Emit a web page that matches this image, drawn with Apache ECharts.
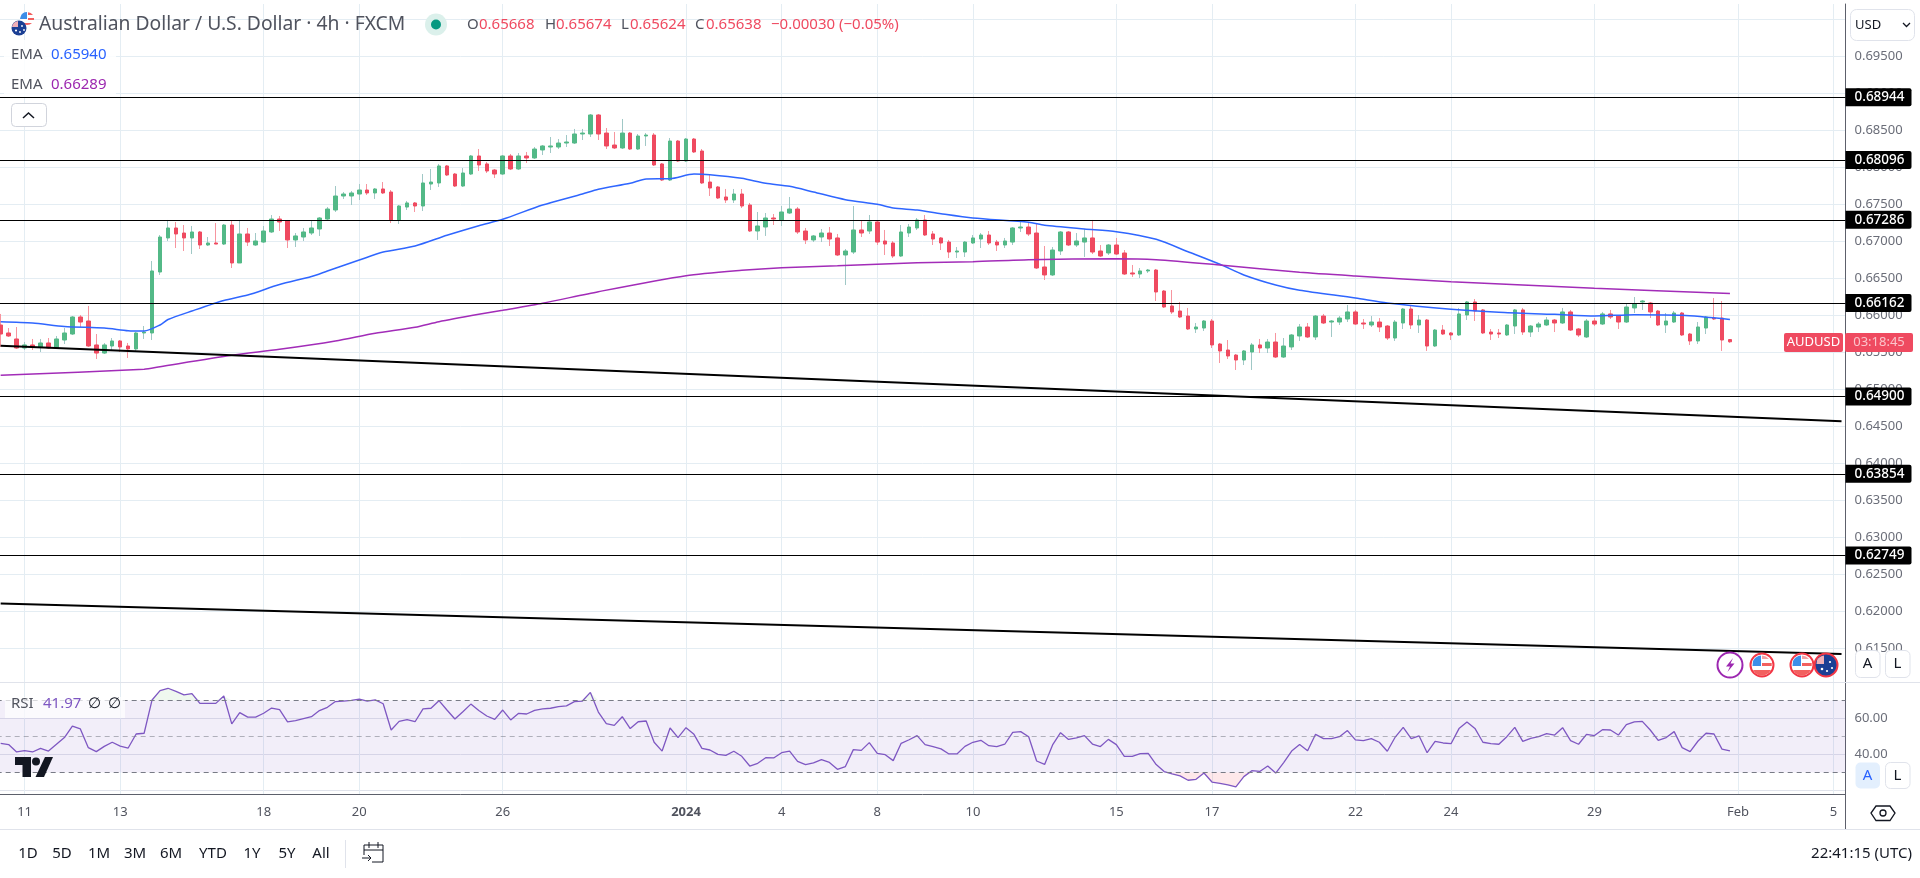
<!DOCTYPE html>
<html><head><meta charset="utf-8">
<style>html,body{margin:0;padding:0;background:#fff}#c{width:1920px;height:878px}</style>
<script src="https://cdn.jsdelivr.net/npm/echarts@6/dist/echarts.min.js"></script>
</head><body><div id="c"></div>
<script>
const barCount = 232;
const dateTickIndex = [3,15,33,45,63,86,98,110,122,140,152,170,182,200,218,230];
const dateTickLabels = ['11','13','18','20','26','2024','4','8','10','15','17','22','24','29','Feb','5'];
const priceTicks = [0.615,0.62,0.625,0.63,0.635,0.64,0.645,0.65,0.655,0.66,0.665,0.67,0.675,0.68,0.685,0.69,0.695,0.70];
const rsiTicks = [20,40,60,80];
const levels = [0.68944,0.68096,0.67286,0.66162,0.64900,0.63854,0.62749];

const opens = [.65865,.65757,.65676,.65554,.65595,.65568,.65622,.65554,.65662,.65743,
.65973,.65919,.65595,.65486,.65581,.65649,.65581,.65541,.65757,.65757,
.66581,.67041,.67176,.67108,.67041,.67122,.66946,.66973,.66959,.67216,
.66703,.67095,.66946,.66986,.67122,.67297,.67270,.67014,.67054,.67108,
.67162,.67297,.67419,.67608,.67608,.67635,.67689,.67649,.67703,.67662,
.67284,.67459,.67514,.67473,.67770,.67784,.68014,.67905,.67743,.67905,
.68149,.68041,.67959,.67905,.68149,.67973,.68149,.68122,.68230,.68270,
.68270,.68324,.68324,.68446,.68446,.68703,.68459,.68297,.68257,.68459,
.68243,.68419,.68432,.68041,.67824,.68351,.68081,.68378,.68216,.67797,
.67730,.67595,.67554,.67635,.67486,.67135,.67189,.67311,.67284,.67378,
.67432,.67135,.67014,.67054,.67108,.67041,.66811,.66851,.67149,.67135,
.67257,.67000,.66973,.66797,.67108,.67176,.67284,.67095,.67041,.66986,
.66851,.66851,.66973,.67027,.67081,.66986,.66946,.66986,.67176,.67189,
.67108,.66649,.66541,.66865,.67122,.66946,.66986,.67041,.66865,.66838,
.66946,.66838,.66568,.66554,.66595,.66608,.66324,.66122,.66054,.65986,
.65811,.65824,.65919,.65608,.65527,.65459,.65392,.65500,.65595,.65554,
.65635,.65432,.65568,.65716,.65838,.65703,.65986,.65905,.65905,.65946,
.66041,.65892,.65865,.65905,.65851,.65689,.65892,.66081,.65865,.65932,
.65581,.65797,.65757,.65730,.66000,.66176,.66068,.65770,.65757,.65730,
.65851,.66068,.65770,.65838,.65865,.65932,.65892,.66041,.65811,.65703,
.65919,.65878,.66014,.65986,.65905,.66095,.66176,.66162,.66054,.65865,
.65905,.66027,.65743,.65649,.65824,.65959,.65959,.65668];
const closes = [.65743,.65716,.65554,.65595,.65568,.65622,.65554,.65676,.65757,.65973,
.65905,.65581,.65486,.65595,.65649,.65568,.65541,.65757,.65770,.66595,
.67054,.67176,.67095,.67041,.67122,.66946,.66973,.66959,.67216,.66703,
.67095,.66986,.67000,.67135,.67297,.67257,.67014,.67068,.67122,.67176,
.67311,.67432,.67608,.67635,.67649,.67689,.67649,.67703,.67649,.67284,
.67473,.67514,.67473,.67784,.67797,.68014,.67892,.67743,.67919,.68149,
.68027,.67946,.67905,.68149,.67973,.68149,.68122,.68243,.68284,.68284,
.68324,.68338,.68446,.68459,.68703,.68446,.68284,.68257,.68459,.68243,
.68419,.68432,.68027,.67824,.68351,.68081,.68378,.68203,.67784,.67716,
.67581,.67554,.67635,.67473,.67135,.67203,.67311,.67297,.67392,.67432,
.67122,.67014,.67068,.67108,.67027,.66811,.66865,.67149,.67108,.67257,
.66986,.66959,.66797,.67122,.67189,.67284,.67081,.67027,.66973,.66851,
.66865,.66986,.67041,.67081,.66973,.66946,.67000,.67176,.67189,.67095,
.66635,.66541,.66878,.67122,.66946,.67000,.67041,.66851,.66797,.66946,
.66824,.66554,.66554,.66595,.66608,.66311,.66108,.66041,.65973,.65811,
.65838,.65919,.65595,.65514,.65446,.65392,.65514,.65595,.65554,.65635,
.65432,.65581,.65730,.65838,.65703,.65986,.65892,.65919,.65959,.66041,
.65878,.65878,.65905,.65838,.65689,.65905,.66081,.65865,.65932,.65581,
.65797,.65743,.65730,.66014,.66176,.66054,.65757,.65743,.65743,.65865,
.66068,.65770,.65851,.65878,.65932,.65892,.66041,.65797,.65730,.65919,
.65878,.66014,.65973,.65905,.66108,.66149,.66189,.66041,.65865,.65919,
.66027,.65730,.65649,.65838,.65973,.65946,.65662,.65638];
const lows = [.65568,.65703,.65541,.65527,.65527,.65500,.65541,.65541,.65608,.65730,
.65838,.65568,.65405,.65473,.65514,.65500,.65419,.65514,.65676,.65662,
.66541,.67000,.66905,.66865,.66824,.66892,.66932,.66959,.66946,.66635,
.66703,.66932,.66932,.66973,.67108,.67135,.66905,.66919,.67000,.67081,
.67068,.67270,.67392,.67568,.67486,.67554,.67622,.67568,.67635,.67243,
.67230,.67419,.67392,.67405,.67689,.67730,.67878,.67730,.67730,.67892,
.67946,.67919,.67851,.67892,.67959,.67959,.68054,.68108,.68162,.68189,
.68243,.68270,.68311,.68365,.68405,.68365,.68243,.68243,.68243,.68230,
.68230,.68284,.68014,.67811,.67811,.68068,.68068,.68189,.67770,.67608,
.67568,.67514,.67514,.67446,.67122,.67014,.67068,.67216,.67203,.67365,
.67095,.66959,.66986,.66986,.66932,.66797,.66405,.66824,.67054,.67095,
.66946,.66811,.66770,.66784,.67054,.67149,.67068,.66946,.66878,.66770,
.66770,.66784,.66959,.66905,.66946,.66865,.66905,.66946,.67122,.67068,
.66622,.66473,.66527,.66811,.66932,.66919,.66784,.66824,.66784,.66811,
.66811,.66541,.66514,.66500,.66568,.66189,.66095,.66014,.65959,.65797,
.65757,.65784,.65554,.65351,.65405,.65257,.65324,.65257,.65486,.65486,
.65419,.65419,.65527,.65649,.65689,.65662,.65878,.65703,.65865,.65905,
.65865,.65811,.65838,.65770,.65662,.65649,.65811,.65811,.65757,.65514,
.65568,.65730,.65662,.65716,.65932,.65919,.65743,.65662,.65689,.65716,
.65743,.65730,.65703,.65770,.65851,.65770,.65878,.65784,.65703,.65689,
.65851,.65865,.65946,.65811,.65892,.66027,.66068,.65959,.65851,.65757,
.65892,.65716,.65595,.65608,.65743,.65932,.65514,.65624];
const highs = [.66014,.65824,.65838,.65635,.65676,.65676,.65689,.65716,.65824,.65986,
.66000,.66122,.65743,.65622,.65689,.65662,.65622,.65770,.65851,.66730,
.67081,.67284,.67257,.67216,.67203,.67135,.67054,.67243,.67230,.67270,
.67284,.67176,.67108,.67203,.67351,.67338,.67284,.67108,.67176,.67284,
.67324,.67459,.67743,.67662,.67676,.67770,.67770,.67716,.67797,.67689,
.67486,.67541,.67527,.67905,.67973,.68041,.68027,.67919,.67986,.68162,
.68243,.68068,.67973,.68162,.68176,.68189,.68203,.68270,.68297,.68405,
.68378,.68432,.68514,.68514,.68716,.68716,.68527,.68473,.68649,.68473,
.68446,.68459,.68459,.68054,.68392,.68365,.68392,.68392,.68243,.67905,
.67743,.67703,.67703,.67703,.67514,.67392,.67378,.67365,.67473,.67595,
.67459,.67176,.67081,.67162,.67189,.67095,.66892,.67473,.67270,.67351,
.67270,.67149,.67000,.67216,.67230,.67311,.67351,.67135,.67054,.67014,
.66919,.67000,.67081,.67108,.67135,.67014,.67041,.67189,.67257,.67243,
.67243,.66932,.66919,.67135,.67135,.67108,.67162,.67284,.66946,.66959,
.67041,.66878,.66676,.66635,.66622,.66622,.66338,.66338,.66176,.66095,
.65892,.65932,.65946,.65622,.65662,.65473,.65527,.65622,.65676,.65676,
.65757,.65689,.65743,.65878,.65892,.66000,.66014,.65932,.65986,.66135,
.66068,.65946,.65986,.65959,.65865,.65932,.66095,.66122,.66000,.65946,
.65811,.65865,.65770,.66095,.66189,.66216,.66081,.65811,.65811,.65878,
.66081,.66095,.65865,.65905,.65973,.65946,.66095,.66068,.65824,.65946,
.65959,.66041,.66068,.66000,.66162,.66243,.66203,.66176,.66068,.66027,
.66054,.66041,.65757,.65905,.65986,.66230,.66189,.65674];

const ema50Index = [0,4,8,13,16,18,20,21,24,28,31,35,39,41,45,48,52,56,60,63,68,73,75,79,81,84,87,89,93,96,99,102,106,110,112,115,118,122,129,131,136,140,145,149,153,156,160,163,170,174,182,188,195,200,205,211,217];
const ema50Values = [.65909,.65892,.65845,.65824,.65788,.65784,.65865,.65939,.66054,.66196,.66270,.66412,.66520,.66595,.66743,.66851,.66932,.67077,.67207,.67293,.67486,.67635,.67699,.67780,.67838,.67842,.67905,.67896,.67847,.67780,.67739,.67662,.67558,.67496,.67446,.67419,.67369,.67311,.67253,.67212,.67162,.67126,.67023,.66855,.66685,.66541,.66405,.66334,.66230,.66162,.66077,.66036,.66009,.65986,.66004,.65996,.65940];
const ema200Index = [0,18,20,29,35,42,47,52,55,60,63,68,75,86,93,98,105,115,122,129,140,145,153,163,170,182,200,217];
const ema200Values = [.65185,.65266,.65301,.65455,.65536,.65649,.65753,.65834,.65909,.66009,.66064,.66158,.66315,.66531,.66604,.66639,.66666,.66707,.66720,.66747,.66761,.66747,.66676,.66577,.66527,.66450,.66361,.66289];
const trendUpperIndex = [0,231];
const trendUpperValues = [.65585,.64565];
const trendLowerIndex = [0,231];
const trendLowerValues = [.62101,.61419];

const rsiValues = [46.2,45.5,41.4,42.1,41.4,43.4,41.9,45.7,49.4,55.8,
54.2,43.8,41.6,44.5,46.8,44.7,43.6,51.4,51.8,70.3,
75.5,76.8,75.1,73.1,73.8,68.4,68.4,68.4,72.5,57,
63.3,60.8,60.8,62.9,65.8,64.9,58.1,58.8,59.9,61,
64.4,66.2,69.4,69.7,70.1,70.8,69.7,70.3,68.2,53.6,
58.4,59.4,58.2,65.3,65.7,69.9,64.7,59.7,63.8,68,
64.4,61.4,59.5,64.7,59.2,62.9,62.5,64.5,65.3,65.7,
66.6,67,69.4,69.7,74.5,63.6,57.1,56.2,61,54.4,58.2,
58.6,46.8,41.9,54.7,49.4,54.9,51.2,43.4,42.5,40.1,
39.5,41.8,39,33.6,35.1,38.2,38.1,41,41.9,36.2,
34.4,35.3,37.1,35.6,31.8,33.3,42.7,42.3,46.6,40.6,
39.9,36.6,46.2,48.2,50.5,45.5,44.4,43.1,40.3,40.3,
44.5,46.8,47.9,44.9,44.4,45.7,52.3,52.7,49.9,36.4,
34.5,45.3,52.1,48.4,49.2,50.5,45.8,44.4,48.4,45.5,
39,39,40.5,40.6,34.4,30.5,29.2,28.1,25.7,26.2,
29.7,24.7,24,23.1,22,27.7,31,30.6,33.6,29.7,
35.5,41.9,45.5,42.1,51.2,48.8,48.8,49.9,53.3,48.1,
47.7,48.8,46.8,41.8,49.7,55.1,48.8,50.3,41,47.3,
46.4,46,54.4,58.1,54.5,46.8,46,45.7,49.9,55.1,
47.3,49,49.9,51.6,50.8,54.9,47.7,45.7,51.2,50.5,
53.8,53.6,50.8,56.6,58.1,58.4,53.6,47.9,49.4,52.7,
43.8,41.6,47.5,51.8,51.4,43,41.97];
const rsiUpper = 70, rsiMiddle = 50, rsiLower = 30;

const sans = '"Noto Sans", sans-serif';
const categories = Array.from({length: barCount}, (_, i) => String(i));
const tickMap = new Map(dateTickIndex.map((k, i) => [k, dateTickLabels[i]]));
const UP = '#53b987', DOWN = '#ef4a60', WICK_UP = '#a0c8c6', WICK_DOWN = '#f7959f';
const GRID = '#e4edf3';
const AXIS = '#5d606b';

const wickData = opens.map((o, i) => [o, closes[i], lows[i], highs[i]]);
const bodyData = opens.map((o, i) => [o, closes[i], Math.min(o, closes[i]), Math.max(o, closes[i])]);
const pairs = (xs, ys) => xs.map((x, i) => [x, ys[i]]);

function T(text, x, y, o) {
  o = o || {};
  return {type:'text', z:100, x, y, silent:true, style:{text, fill:o.c||'#50535e', font:(o.w?o.w+' ':'')+(o.s||14)+'px '+sans, textAlign:o.a||'left', textVerticalAlign:'middle'}};
}
function R(x, y, w, h, fill, stroke, r, op) {
  return {type:'rect', z:99, silent:true, shape:{x, y, width:w, height:h, r:r||0}, style:{fill:fill||'none', stroke:stroke||'none', lineWidth:1, opacity:op==null?1:op}};
}
let pathCount = 0;
function P(d, fill, stroke, lw) {
  const name = 'iconPath' + (pathCount++);
  echarts.graphic.registerShape(name, echarts.graphic.extendPath(d, {}));
  return {type:name, z:100, silent:true, style:{fill:fill||'none', stroke:stroke||'none', lineWidth:lw||1}};
}
function C(cx, cy, r, fill, stroke, lw) {
  return {type:'circle', z:100, silent:true, shape:{cx, cy, r}, style:{fill:fill||'none', stroke:stroke||'none', lineWidth:lw||1}};
}
function usFlag(cx, cy) {
  return [C(cx, cy, 11.5, '#fff', '#f23645', 2),
    P(`M${cx-9} ${cy-4}A10 10 0 0 1 ${cx-1} ${cy-9.5}V${cy+1}H${cx-9.5}Z`, '#3d8ee8'),
    P(`M${cx} ${cy-9.5}A10 10 0 0 1 ${cx+7} ${cy-6}H${cx}Z`, '#f2a0a5'),
    P(`M${cx} ${cy-2}H${cx+9.7}V${cy+1}H${cx}Z`, '#f2605f'),
    P(`M${cx-9} ${cy+5}H${cx+9}A10 10 0 0 1 ${cx-9} ${cy+5}Z`, '#f2605f')];
}
function auFlag(cx, cy) {
  return [C(cx, cy, 11.5, '#1c3f94', '#f23645', 2),
    P(`M${cx-9} ${cy-5}A10 10 0 0 1 ${cx-2} ${cy-9.5}V${cy-1}H${cx-9.5}Z`, '#f0b0b8'),
    C(cx+4, cy-3, 1.1, '#fff'), C(cx+6, cy+3, 1.1, '#fff'), C(cx+1, cy+6, 1.1, '#fff'), C(cx-4, cy+4, 1.3, '#fff')];
}

const rangeLabels = [['1D',28],['5D',62],['1M',99],['3M',135],['6M',171],['YTD',213],['1Y',252],['5Y',287],['All',321]];
const graphics = [
  // legend plates
  R(4,40,112,57,'#fff',null,0,0.85),
  R(5,697,120,21,'#fff',null,0,0.7),
  // header flags
  C(27,19,7,'#fff'), P('M20.5 17A7 7 0 0 1 27 12V19H20Z','#3d8ee8'), P('M28 12.2A7 7 0 0 1 33 15H28Z','#f2605f'), P('M28 18H34V20H28Z','#f2605f'),P('M22 23H32A7 7 0 0 1 22 23Z','#f2605f'),
  C(19,28,7.5,'#1c3f94'), P('M12.5 25A7.5 7.5 0 0 1 18 21V27H12Z','#f0b0b8'), C(22,26,.9,'#fff'), C(24,30,.9,'#fff'), C(20,32,.9,'#fff'), C(16,30.5,1.1,'#fff'),
  T('Australian Dollar / U.S. Dollar · 4h · FXCM', 39, 25, {s:19.3, c:'#50535e'}),
  C(436,24.5,11,'#dbf0eb'), C(436,24.5,5,'#089981'),
  T('O',467,25,{s:15}), T('0.65668',479,25,{s:15,c:DOWN}),
  T('H',545,25,{s:15}), T('0.65674',556,25,{s:15,c:DOWN}),
  T('L',621,25,{s:15}), T('0.65624',630,25,{s:15,c:DOWN}),
  T('C',695,25,{s:15}), T('0.65638',706,25,{s:15,c:DOWN}),
  T('−0.00030 (−0.05%)',771,25,{s:15,c:DOWN}),
  T('EMA',11,55,{s:15}), T('0.65940',51,55,{s:15,c:'#2962ff'}),
  T('EMA',11,85,{s:15}), T('0.66289',51,85,{s:15,c:'#9c27b0'}),
  R(11.5,103.5,35,23,'#fff','#d1d4dc',4),
  P('M23 118L28.5 113L34 118',null,'#131722',1.5),
  T('RSI',11,704,{s:15}), T('41.97',43,704,{s:15,c:'#7e57c2'}), T('∅',88,704,{s:15,c:'#131722'}), T('∅',108,704,{s:15,c:'#131722'}),
  // logo
  P('M15 757H31V777H22.5V765H15Z','#131722'), C(36,761.5,4,'#131722'), P('M45 757H53L44 777H35.5Z','#131722'),
  // right column
  R(1850.5,9.5,64,31,'#fff','#e0e3eb',6),
  T('USD',1855,25,{s:13,c:'#131722'}),
  P('M1903 23L1906.5 26.5L1910 23',null,'#131722',1.3),
  R(1855.5,650.5,24.5,27,'#fff','#e0e3eb',5), T('A',1867.5,664,{s:15,a:'center',c:'#131722'}),
  R(1885.5,650.5,24.5,27,'#fff','#e0e3eb',5), T('L',1897.5,664,{s:15,a:'center',c:'#131722'}),
  R(1855.5,762.5,24.5,26,'#e3effd',null,5), T('A',1867.5,776,{s:15,a:'center',c:'#2962ff'}),
  R(1885.5,762.5,24.5,26,'#fff','#e0e3eb',5), T('L',1897.5,776,{s:15,a:'center',c:'#131722'}),
  P('M1876 806H1890L1895 813L1890 820.5H1876L1871 813Z',null,'#131722',1.3), C(1883,813,3,null,'#131722',1.3),
  // last price tags
  R(1784,333,59,19,DOWN,null,2), T('AUDUSD',1813.5,342.5,{s:13,a:'center',c:'#fff'}),
  R(1845,333,68,19,DOWN,null,2), T('03:18:45',1879,342.5,{s:13,a:'center',c:'#fbc4cb'}),
  // event icons
  C(1730,665,12.5,'#fff','#9c27b0',2), P('M1733 658L1726 666.5H1730L1727.5 672L1734.5 663.5H1730.5Z','#9c27b0'),
  ...usFlag(1762,665), ...usFlag(1802,665), ...auFlag(1826,665),
  // frame lines
  {type:'line', z:50, silent:true, shape:{x1:0,y1:829.5,x2:1920,y2:829.5}, style:{stroke:'#e0e3eb',lineWidth:1}},
  {type:'line', z:50, silent:true, shape:{x1:0,y1:682.5,x2:1920,y2:682.5}, style:{stroke:'#e0e3eb',lineWidth:1}},
  {type:'line', z:50, silent:true, shape:{x1:1845.5,y1:794,x2:1845.5,y2:829}, style:{stroke:AXIS,lineWidth:1}},
  // bottom toolbar
  ...rangeLabels.map(([t,x]) => T(t, x, 853.5, {s:15, a:'center', c:'#131722'})),
  {type:'line', z:50, silent:true, shape:{x1:345.5,y1:840,x2:345.5,y2:868}, style:{stroke:'#e0e3eb',lineWidth:1}},
  P('M364 845H383V862H372M364 845V855M364 850H383M369 842V848M378 842V848M362 858H371M368 855L371 858L368 861',null,'#131722',1),
  T('22:41:15 (UTC)', 1912, 853.5, {s:15, a:'right', c:'#131722'})
];

const chart = echarts.init(document.getElementById('c'), null, {renderer:'canvas'});
const xAxisBase = {
  type:'category', data:categories, boundaryGap:true,
  axisTick:{show:false},
  splitLine:{show:true, alignWithLabel:true, interval:(i)=>tickMap.has(i), lineStyle:{color:GRID,width:1}}
};
chart.setOption({
  animation:false,
  backgroundColor:'#fff',
  textStyle:{fontFamily:sans},
  grid:[
    {left:-3.32, top:4, width:1848.82, height:678, outerBoundsMode:'none'},
    {left:-3.32, top:682.5, width:1848.82, height:111.5, outerBoundsMode:'none'}
  ],
  xAxis:[
    {...xAxisBase, gridIndex:0, axisLine:{show:false}, axisLabel:{show:false}},
    {...xAxisBase, gridIndex:1, axisLine:{show:true,onZero:false,lineStyle:{color:AXIS,width:1}},
     axisLabel:{show:true, interval:(i)=>tickMap.has(i), hideOverlap:false, margin:12, fontSize:13, color:'#50535e', fontFamily:sans,
       formatter:(v,i)=>{const t=tickMap.get(i); return t==='2024'?'{b|2024}':(t||'');},
       rich:{b:{fontWeight:'bold',fontSize:13,color:'#50535e',fontFamily:sans}}}}
  ],
  yAxis:[
    {type:'value', gridIndex:0, position:'right', min:0.610405, max:0.702027,
     axisLine:{show:true,onZero:false,lineStyle:{color:AXIS,width:1}},
     axisTick:{show:false, customValues:priceTicks},
     axisLabel:{customValues:priceTicks, margin:9, fontSize:13, color:'#6a6d78', fontFamily:sans, formatter:(v)=>v.toFixed(5)},
     splitLine:{show:true, lineStyle:{color:GRID,width:1}}},
    {type:'value', gridIndex:1, position:'right', min:18.056, max:80,
     axisLine:{show:true,onZero:false,lineStyle:{color:AXIS,width:1}},
     axisTick:{show:false, customValues:rsiTicks},
     axisLabel:{customValues:[40,60], margin:9, fontSize:13, color:'#6a6d78', fontFamily:sans, formatter:(v)=>v.toFixed(2)},
     splitLine:{show:true, lineStyle:{color:'#e0e3eb',width:1}}}
  ],
  graphic:{elements:graphics},
  series:[
    {name:'wicks', type:'candlestick', xAxisIndex:0, yAxisIndex:0, z:2, barWidth:1, silent:true, data:wickData,
     itemStyle:{color:WICK_UP,color0:WICK_DOWN,borderColor:WICK_UP,borderColor0:WICK_DOWN,borderWidth:1}},
    {name:'bodies', type:'candlestick', xAxisIndex:0, yAxisIndex:0, z:3, barWidth:4, silent:true, data:bodyData,
     itemStyle:{color:UP,color0:DOWN,borderColor:UP,borderColor0:DOWN,borderWidth:1}},
    {name:'EMA 50', type:'line', xAxisIndex:0, yAxisIndex:0, z:4, showSymbol:false, silent:true, smooth:0.25, data:pairs(ema50Index,ema50Values), lineStyle:{color:'#2f66ff',width:1.5}},
    {name:'EMA 200', type:'line', xAxisIndex:0, yAxisIndex:0, z:4, showSymbol:false, silent:true, smooth:0.25, data:pairs(ema200Index,ema200Values), lineStyle:{color:'#a22cb8',width:1.5}},
    {name:'trend upper', type:'line', xAxisIndex:0, yAxisIndex:0, z:5, showSymbol:false, silent:true, data:pairs(trendUpperIndex,trendUpperValues), lineStyle:{color:'#000',width:2}},
    {name:'trend lower', type:'line', xAxisIndex:0, yAxisIndex:0, z:5, showSymbol:false, silent:true, data:pairs(trendLowerIndex,trendLowerValues), lineStyle:{color:'#000',width:2}},
    {name:'levels', type:'line', xAxisIndex:0, yAxisIndex:0, z:5, showSymbol:false, silent:true, data:[],
     markLine:{silent:true, symbol:'none', animation:false, precision:5, lineStyle:{color:'#000',width:1.2,type:'solid'},
       label:{show:true, position:'end', distance:0, formatter:(p)=>p.value.toFixed(5), color:'#fff', backgroundColor:'#000', fontFamily:sans, fontSize:13.5, fontWeight:500, padding:[2,7,2,9], borderRadius:[0,2,2,0]},
       data:levels.map(v=>({yAxis:v}))}},
    {name:'RSI over', type:'line', xAxisIndex:1, yAxisIndex:1, z:2, showSymbol:false, silent:true, data:rsiValues.map(v=>Math.max(v,rsiUpper)), lineStyle:{opacity:0}, areaStyle:{origin:rsiUpper,color:'rgba(76,175,80,0.13)'}},
    {name:'RSI under', type:'line', xAxisIndex:1, yAxisIndex:1, z:2, showSymbol:false, silent:true, data:rsiValues.map(v=>Math.min(v,rsiLower)), lineStyle:{opacity:0}, areaStyle:{origin:rsiLower,color:'rgba(242,54,69,0.16)'}},
    {name:'RSI', type:'line', xAxisIndex:1, yAxisIndex:1, z:3, showSymbol:false, silent:true, data:rsiValues, lineStyle:{color:'#7e57c2',width:1.3},
     markArea:{silent:true, itemStyle:{color:'rgba(126,87,194,0.1)'}, data:[[{yAxis:rsiUpper},{yAxis:rsiLower}]]},
     markLine:{silent:true, symbol:'none', label:{show:false}, data:[
       {yAxis:rsiUpper, lineStyle:{color:'#787b86',type:[5,4],width:1}},
       {yAxis:rsiMiddle, lineStyle:{color:'rgba(120,123,134,0.55)',type:[5,4],width:1}},
       {yAxis:rsiLower, lineStyle:{color:'#787b86',type:[5,4],width:1}}]}}
  ]
});
</script></body></html>
